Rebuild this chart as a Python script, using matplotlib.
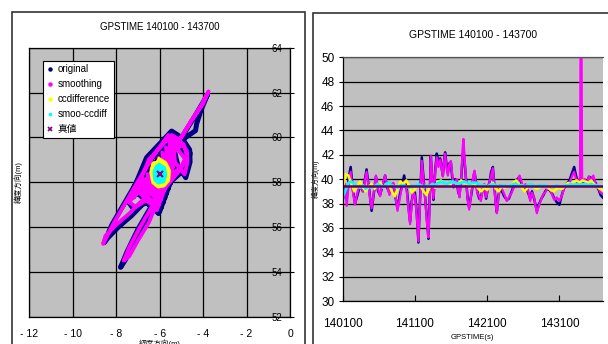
import numpy as np
import matplotlib
matplotlib.use("Agg")
import matplotlib.pyplot as plt
from matplotlib.patches import Rectangle
from matplotlib.lines import Line2D

plt.rcParams['font.family'] = ['Liberation Sans Narrow', 'Liberation Sans', 'Noto Sans CJK JP']

# ---- left chart: plan view (longitude / latitude offsets, m) ----
orig_x = [-6.0, -5.3, -4.6, -4.1, -3.8, -4.1, -4.3, -4.35, -4.8, -5.4, -5.5, -6.3, -7.0,
          -7.6, -8.2, -8.55, -8.4, -7.9, -7.3, -6.8, -6.2, -5.4, -4.7, -4.6, -4.9, -5.6,
          -6.3, -7.0, -7.5, -7.2, -6.6, -6.3, -6.7, -7.2, -7.6, -7.8, -7.5, -7.0, -6.4,
          -5.8, -5.1, -4.65, -5.1, -5.9, -6.7, -7.35, -6.9, -6.3, -5.7, -5.2, -5.6, -6.0,
          -7.18, -5.93, -6.84, -5.76, -6.50, -5.60, -6.17, -5.43, -5.83, -5.26, -5.49,
          -5.18, -5.66, -5.35, -6.00, -5.51, -6.34, -5.68, -6.67, -5.84, -7.01, -6.01,
          -5.2, -4.8, -4.6, -4.62, -5.0, -5.45, -6.6, -7.2, -6.05]
orig_y = [58.4, 59.5, 60.6, 61.4, 61.9, 61.2, 60.6, 60.3, 60.0, 59.5, 60.2, 59.2, 58.1,
          57.1, 56.1, 55.3, 55.5, 56.0, 56.5, 57.0, 57.5, 58.1, 58.7, 59.3, 59.8, 59.4,
          58.7, 57.9, 57.2, 56.8, 57.1, 56.8, 56.0, 55.2, 54.5, 54.2, 54.9, 55.9, 56.9,
          57.8, 58.5, 59.0, 59.6, 59.1, 58.2, 57.4, 57.5, 58.3, 59.0, 59.7, 59.3, 58.4,
          57.75, 56.87, 58.23, 57.30, 58.70, 57.73, 59.18, 58.16, 59.65, 58.59, 60.13,
          58.80, 59.89, 58.37, 59.42, 57.94, 58.94, 57.52, 58.46, 57.09, 57.99, 56.66,
          58.8, 58.2, 58.9, 59.45, 60.0, 60.28, 59.1, 57.7, 56.6]
smooth_x = [-6.0, -5.4, -4.7, -4.1, -3.75, -4.0, -4.5, -5.0, -5.45, -5.6, -6.2, -6.9, -7.5,
            -8.1, -8.6, -8.5, -8.0, -7.4, -6.9, -6.3, -5.6, -5.0, -4.75, -4.9, -5.5, -6.2,
            -6.9, -7.4, -7.1, -6.6, -6.2, -6.5, -7.0, -7.4, -7.65, -7.4, -6.9, -6.3, -5.7,
            -5.1, -4.8, -5.2, -5.9, -6.6, -7.2, -7.0, -6.4, -5.8, -5.3, -5.5, -6.0,
            -7.06, -6.05, -6.72, -5.88, -6.38, -5.72, -6.05, -5.55, -5.71, -5.38, -5.37,
            -5.30, -5.54, -5.47, -5.88, -5.63, -6.22, -5.80, -6.55, -5.96, -6.89, -6.13,
            -5.30, -4.85, -4.72, -4.75, -5.1, -5.45, -6.5, -7.06, -6.13]
smooth_y = [58.4, 59.4, 60.5, 61.4, 62.05, 61.5, 60.8, 60.0, 59.6, 60.1, 59.3, 58.2, 57.2,
            56.2, 55.25, 55.6, 56.1, 56.6, 57.1, 57.6, 58.2, 58.7, 59.2, 59.7, 59.3, 58.6,
            57.8, 57.1, 56.9, 57.2, 56.9, 56.2, 55.4, 54.7, 54.5, 55.1, 56.0, 57.0, 57.8,
            58.5, 59.0, 59.5, 59.0, 58.1, 57.3, 57.6, 58.4, 59.1, 59.6, 59.3, 58.4,
            57.65, 56.97, 58.13, 57.40, 58.60, 57.83, 59.08, 58.26, 59.55, 58.69, 60.03,
            58.90, 59.79, 58.47, 59.32, 58.04, 58.84, 57.62, 58.36, 57.19, 57.89, 56.76,
            58.90, 58.35, 58.9, 59.4, 59.9, 60.1, 59.0, 57.65, 56.76]
ccd_x = [-6.0, -5.78, -5.62, -5.66, -5.84, -6.05, -6.25, -6.33, -6.25, -6.0, -5.82, -5.75,
         -5.9, -6.12, -6.2, -6.08]
ccd_y = [58.95, 58.82, 58.5, 58.1, 57.9, 57.86, 58.02, 58.45, 58.8, 58.72, 58.5, 58.2,
         58.02, 58.1, 58.45, 58.65]
sccd_x = [-6.0, -5.82, -5.78, -5.86, -6.04, -6.18, -6.2, -6.1, -5.96, -5.92, -6.04]
sccd_y = [58.72, 58.6, 58.3, 58.07, 58.02, 58.15, 58.45, 58.68, 58.5, 58.25, 58.3]
true_xy = (-6.0, 58.35)

# ---- right chart: latitude component vs GPS time ----
t_main = [140100, 140130, 140155, 140185, 140210, 140240, 140270, 140300, 140340, 140380,
          140430, 140465, 140500, 140530, 140560, 140590, 140617, 140650, 140687, 140715,
          140747, 140775, 140800, 140830, 140858, 140890, 140918, 140950, 140987, 141010,
          141033, 141055, 141075, 141100, 141125, 141148, 141170, 141195, 141218, 141240,
          141265, 141287, 141305, 141320, 141340, 141356, 141380, 141402, 141425, 141450,
          141470, 141486, 141505, 141518, 141535, 141555, 141575, 141597, 141615, 141634,
          141655, 141680, 141700, 141717, 141740, 141760, 141772, 141790, 141809, 141830,
          141850, 141870, 141888, 141905, 141925, 141945, 141966, 141990, 142012, 142035,
          142060, 142086, 142110, 142135, 142155, 142179, 142200, 142220, 142234, 142255,
          142280, 142305, 142335, 142372, 142400, 142440, 142488, 142520, 142548, 142575,
          142603, 142630, 142660, 142696, 142720, 142750, 142788, 142815, 142850, 142880,
          142904, 142930, 142965, 143000, 143030, 143065, 143100, 143130, 143165, 143200,
          143240, 143280, 143305, 143330, 143360, 143385, 143400, 143415, 143450, 143480,
          143510, 143540, 143570, 143600, 143640, 143670, 143700]
lat_orig = [38.3, 39.2, 38.4, 40.2, 41.0, 39.2, 38.0, 38.6, 39.5, 39.0,
            40.8, 39.2, 37.4, 38.8, 40.2, 39.0, 38.7, 39.4, 40.3, 39.3,
            38.9, 39.6, 39.6, 38.5, 37.6, 38.7, 39.4, 40.3, 39.2, 37.8,
            36.5, 38.2, 38.8, 38.9, 37.2, 34.8, 38.3, 41.8, 40.2, 38.6,
            36.8, 35.1, 38.7, 41.9, 39.8, 38.3, 40.7, 42.1, 41.4, 41.7,
            40.9, 40.3, 41.6, 42.2, 41.3, 40.5, 41.3, 41.4, 40.2, 39.6,
            40.0, 39.8, 38.9, 38.7, 40.0, 41.8, 42.5, 41.2, 39.9, 38.4,
            37.7, 38.4, 39.0, 40.0, 40.6, 39.8, 38.9, 38.4, 38.4, 39.1,
            39.5, 38.4, 39.3, 39.8, 40.6, 41.0, 39.4, 38.0, 37.3, 38.6,
            39.3, 39.0, 38.6, 38.3, 38.4, 39.0, 39.8, 40.0, 40.2, 39.6,
            39.2, 39.3, 39.0, 38.4, 39.0, 38.4, 37.4, 37.9, 38.4, 38.7,
            39.0, 39.2, 39.1, 38.8, 38.4, 38.1, 37.9, 38.6, 39.3, 39.6,
            39.9, 40.6, 41.0, 40.3, 39.6, 39.7, 39.7, 39.6, 39.8, 39.5,
            40.2, 40.1, 40.0, 39.7, 39.2, 38.7, 38.5]
lat_smooth = [39.0, 39.6, 37.8, 39.8, 40.6, 39.0, 37.9, 38.8, 39.7, 39.0,
              40.6, 39.0, 37.6, 38.9, 40.3, 39.2, 38.6, 39.6, 40.3, 39.4,
              38.7, 39.4, 39.7, 38.6, 37.4, 38.4, 39.3, 39.8, 39.0, 37.5,
              36.3, 38.0, 39.0, 38.6, 37.0, 34.9, 38.0, 41.5, 40.0, 38.5,
              36.5, 35.2, 38.5, 41.9, 40.0, 38.4, 40.5, 41.8, 41.0, 41.6,
              40.8, 40.2, 41.5, 42.1, 41.0, 40.3, 41.2, 41.5, 40.4, 39.3,
              39.8, 40.0, 39.0, 38.5, 40.0, 42.5, 43.3, 41.5, 39.8, 38.3,
              37.5, 38.3, 39.2, 40.2, 40.7, 39.6, 38.8, 38.6, 38.2, 39.0,
              39.6, 38.5, 39.2, 39.8, 40.3, 40.9, 39.2, 37.8, 37.2, 38.5,
              39.5, 39.2, 38.8, 38.2, 38.5, 38.9, 39.6, 39.8, 40.3, 39.8,
              39.2, 39.6, 39.3, 38.2, 38.9, 38.5, 37.2, 37.8, 38.4, 38.8,
              38.9, 39.2, 39.3, 38.7, 38.3, 38.5, 38.2, 38.6, 39.2, 39.5,
              39.7, 40.3, 40.6, 40.0, 39.8, 40.0, 60.0, 39.8, 40.0, 39.6,
              40.2, 39.9, 40.3, 39.6, 39.3, 38.9, 38.8]
t_cc = np.arange(140100, 143701, 40)
lat_ccd = [39.2, 40.4, 40.3, 39.6, 39.0, 39.4, 39.8, 39.3, 39.0, 39.4,
           39.6, 39.2, 39.5, 39.7, 39.3, 39.6, 39.5, 39.0, 38.6, 39.2,
           39.8, 39.6, 39.9, 39.4, 38.9, 39.2, 39.6, 39.4, 39.0, 38.7,
           39.3, 39.6, 39.3, 39.8, 39.9, 39.7, 39.6, 39.5, 39.8, 39.7,
           39.6, 39.9, 39.7, 39.6, 39.3, 39.7, 39.5, 39.2, 39.0, 39.3,
           39.1, 39.5, 39.7, 39.2, 39.0, 39.4, 39.3, 39.4, 39.5, 39.7,
           39.9, 39.6, 39.3, 39.0, 39.3, 39.6, 39.4, 39.2, 39.3, 39.5,
           39.4, 39.3, 39.1, 39.0, 39.2, 39.3, 39.2, 39.5, 39.7, 39.6,
           39.8, 39.9, 39.7, 39.9, 39.8, 39.7, 39.9, 39.6, 39.4, 39.2, 39.1]
lat_sccd = [38.5, 39.1, 39.7, 39.8, 39.6, 39.4, 39.3, 39.5, 39.2, 39.4,
            39.3, 39.4, 39.6, 39.5, 39.3, 39.6, 39.7, 39.5, 39.4, 39.3,
            39.5, 39.5, 39.4, 39.3, 39.5, 39.4, 39.6, 39.5, 39.3, 39.5,
            39.4, 39.6, 39.5, 39.7, 39.8, 39.7, 39.6, 39.7, 39.8, 39.7,
            39.6, 39.7, 39.8, 39.7, 39.6, 39.7, 39.7, 39.6, 39.5, 39.5,
            39.4, 39.5, 39.6, 39.5, 39.4, 39.5, 39.5, 39.4, 39.5, 39.6,
            39.6, 39.5, 39.5, 39.4, 39.5, 39.6, 39.5, 39.4, 39.5, 39.5,
            39.5, 39.4, 39.4, 39.4, 39.5, 39.4, 39.4, 39.5, 39.5, 39.6,
            39.5, 39.6, 39.5, 39.6, 39.6, 39.5, 39.6, 39.5, 39.5, 39.4, 39.4]
lat_true = 39.4

NAVY, MAG, YEL, CYA, PUR = '#000080', '#ff00ff', '#ffff00', '#00ffff', '#800080'
GRAY = '#c0c0c0'

fig = plt.figure(figsize=(6.08, 3.44), dpi=100)

# outer chart frames and cut-off caption
fig.patches.append(Rectangle((0.0197, -0.1), 0.482, 1.065, transform=fig.transFigure,
                             fill=False, ec='#333333', lw=1.2))
fig.patches.append(Rectangle((0.514, -0.1), 0.55, 1.062, transform=fig.transFigure,
                             fill=False, ec='#333333', lw=1.2))
fig.text(0.045, 1.018, '図図', fontsize=13, va='center', ha='left', fontweight='bold')

# ---------------- left chart ----------------
ax1 = fig.add_axes([0.0482, 0.0794, 0.4288, 0.782])
ax1.set_facecolor(GRAY)
ax1.plot(orig_x, orig_y, color=NAVY, lw=3.6, solid_joinstyle='round', solid_capstyle='round')
ax1.plot(smooth_x, smooth_y, color=MAG, lw=2.8, solid_joinstyle='round', solid_capstyle='round')
ax1.plot(ccd_x, ccd_y, color=YEL, lw=4.5, solid_joinstyle='round')
ax1.plot(sccd_x, sccd_y, color=CYA, lw=4.0, solid_joinstyle='round')
ax1.plot(*true_xy, marker='x', color=PUR, ms=4, mew=1.5, ls='none')
ax1.set_xlim(-12, 0)
ax1.set_ylim(52, 64)
ax1.set_xticks(np.arange(-12, 1, 2))
ax1.set_yticks(np.arange(52, 65, 2))
ax1.grid(True, color='black', lw=0.9)
ax1.set_axisbelow(True)
ax1.yaxis.set_ticks_position('right')
ax1.tick_params(axis='y', direction='out', length=3, pad=-16, labelsize=7)
ax1.tick_params(axis='x', direction='out', length=0, pad=9, labelsize=7.5)
ax1.set_xticklabels([str(v).replace('-', '- ') if v < 0 else str(v)
                     for v in range(-12, 1, 2)])
for s in ax1.spines.values():
    s.set_color('black')
    s.set_linewidth(0.9)
ax1.set_title('GPSTIME 140100 - 143700', fontsize=7, pad=13)
ax1.set_xlabel('経度方向(m)', fontsize=5.5, labelpad=0)
ax1.set_ylabel('緯度方向(m)', fontsize=5.5, labelpad=5)

handles = [
    Line2D([], [], ls='none', marker='o', ms=2.2, color=NAVY),
    Line2D([], [], ls='none', marker='o', ms=2.2, color=MAG),
    Line2D([], [], ls='none', marker='o', ms=2.2, color=YEL),
    Line2D([], [], ls='none', marker='o', ms=1.6, color=CYA),
    Line2D([], [], ls='none', marker='x', ms=3, mew=1.2, color=PUR),
]
labels = ['original', 'smoothing', 'ccdifference', 'smoo-ccdiff', '真値']
leg = ax1.legend(handles, labels, loc='upper left', bbox_to_anchor=(0.052, 0.952),
                 fontsize=7, frameon=True, fancybox=False, edgecolor='black',
                 framealpha=1, handlelength=0.6, handletextpad=0.5,
                 labelspacing=0.5, borderpad=0.4, borderaxespad=0)
leg.get_frame().set_linewidth(0.8)

# ---------------- right chart ----------------
ax2 = fig.add_axes([0.5637, 0.125, 0.4276, 0.7084])
ax2.set_facecolor(GRAY)
ax2.plot(t_main, lat_orig, color=NAVY, lw=1.8)
ax2.plot(t_main, lat_smooth, color=MAG, lw=1.6)
ax2.plot(t_cc, lat_ccd, color=YEL, lw=1.8)
ax2.plot(t_cc, lat_sccd, color=CYA, lw=2.0)
ax2.axhline(lat_true, color='#660066', lw=1.8)
ax2.set_xlim(140100, 143700)
ax2.set_ylim(30, 50)
ax2.set_xticks([140100, 141100, 142100, 143100])
ax2.set_yticks(np.arange(30, 51, 2))
ax2.yaxis.grid(True, color='black', lw=0.9)
ax2.set_axisbelow(True)
ax2.tick_params(axis='y', direction='out', length=3, pad=3, labelsize=8.5)
ax2.tick_params(axis='x', direction='in', length=4, pad=12, labelsize=8.5)
for s in ax2.spines.values():
    s.set_color('black')
    s.set_linewidth(0.9)
ax2.spines['top'].set_color('#555555')
ax2.spines['right'].set_visible(False)
ax2.set_title('GPSTIME 140100 - 143700', fontsize=7.5, pad=14)
ax2.set_xlabel('GPSTIME(s)', fontsize=5.5, labelpad=3)
ax2.set_ylabel('緯度方向(m)', fontsize=5, labelpad=1)

fig.savefig('out.png', dpi=100)
